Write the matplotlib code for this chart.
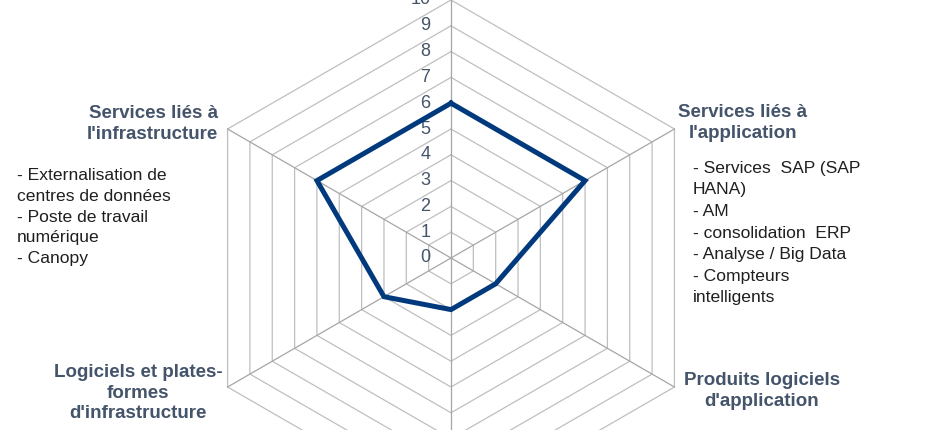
import numpy as np
import matplotlib
matplotlib.use("Agg")
import matplotlib.pyplot as plt

plt.rcParams['font.family'] = ['Liberation Sans', 'DejaVu Sans']

# data, clockwise from the top spoke
categories = ["", "Services liés à\nl'application", "Produits logiciels\nd'application",
              "", "Logiciels et plates-\nformes\nd'infrastructure", "Services liés à\nl'infrastructure"]
values = [6, 6, 2, 2, 3, 6]
ticks = list(range(0, 11))

desc_infra = "- Externalisation de\ncentres de données\n- Poste de travail\nnumérique\n- Canopy"
desc_app = "- Services  SAP (SAP\nHANA)\n- AM\n- consolidation  ERP\n- Analyse / Big Data\n- Compteurs\nintelligents"

W, H = 933, 430
fig = plt.figure(figsize=(W / 100, H / 100), dpi=100)
ax = fig.add_axes([0, 0, 1, 1])
ax.set_axis_off()

# centre of the radar at pixel (451, 258), 25.8 px per unit
scale = 25.8
cx, cy = 451, 258
ax.set_xlim(-cx / scale, (W - cx) / scale)
ax.set_ylim(-(H - cy) / scale, cy / scale)

n = len(values)
ang = np.pi / 2 - np.arange(n) * 2 * np.pi / n
ang_c = np.append(ang, ang[0])

# hexagonal grid
for r in ticks[1:]:
    ax.plot(r * np.cos(ang_c), r * np.sin(ang_c), color='#BFBFBF', lw=0.9, zorder=1)
rmax = ticks[-1]
for a in ang:
    ax.plot([0, rmax * np.cos(a)], [0, rmax * np.sin(a)], color='#A6A6A6', lw=0.9, zorder=1)

# tick labels along the top spoke
for t in ticks:
    ax.text(-0.8, t, str(t), ha='right', va='center', fontsize=13, color='#44546A', zorder=3)

# series
v = np.append(values, values[0])
ax.plot(v * np.cos(ang_c), v * np.sin(ang_c), color='#003A7D', lw=3.6,
        solid_joinstyle='miter', zorder=4)

def px(x, y):
    return x / W, 1 - y / H

lab = dict(fontsize=13.5, fontweight='bold', color='#44546A', linespacing=1.3)
fig.text(*px(218, 124), categories[5], ha='right', va='center', multialignment='right', **lab)
fig.text(*px(743, 123), categories[1], ha='center', va='center', multialignment='center', **lab)
fig.text(*px(138, 393), categories[4], ha='center', va='center', multialignment='center', **lab)
fig.text(*px(762, 391), categories[2], ha='center', va='center', multialignment='center', **lab)

dsc = dict(fontsize=12.6, color='#1F1F1F')
fig.text(*px(17, 217), desc_infra, ha='left', va='center', linespacing=1.48, **dsc)
fig.text(*px(693, 233), desc_app, ha='left', va='center', linespacing=1.55, **dsc)

fig.savefig('out.png', dpi=100)
